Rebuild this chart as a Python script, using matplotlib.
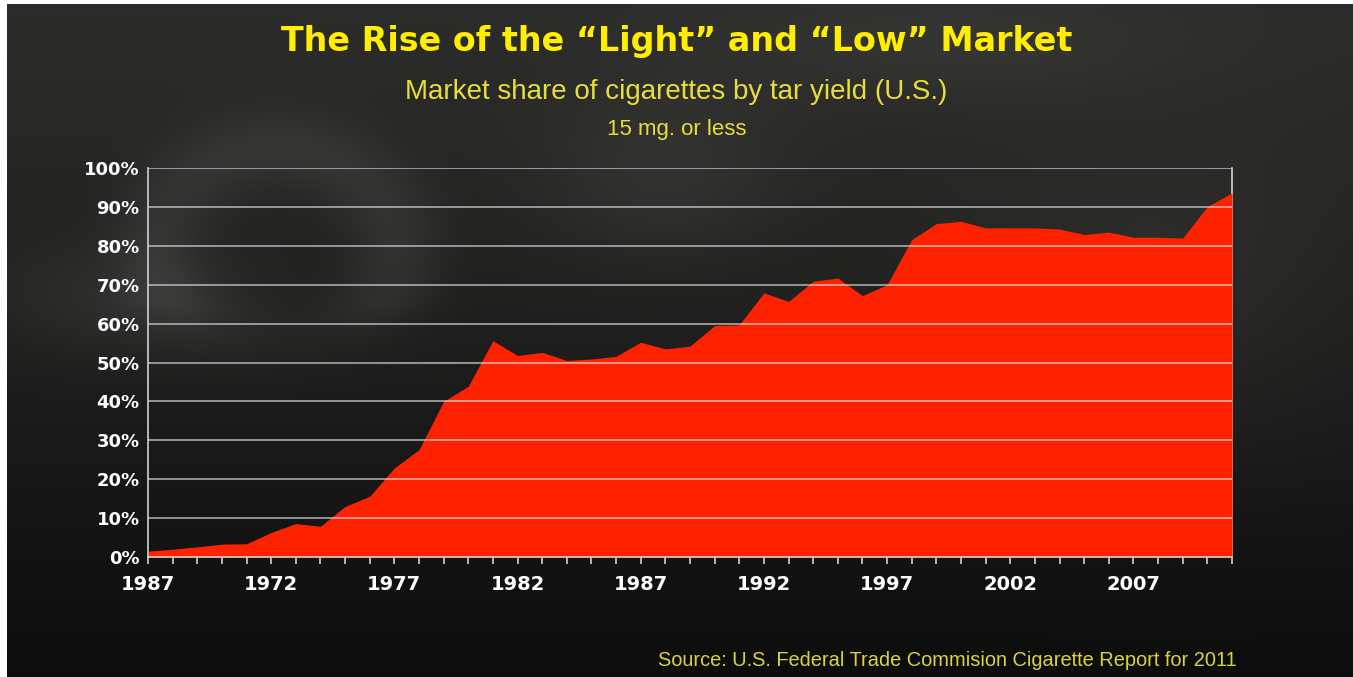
import numpy as np
import matplotlib
matplotlib.use("Agg")
import matplotlib.pyplot as plt
from matplotlib.ticker import MultipleLocator, FixedLocator, FixedFormatter

# Market share of cigarettes with 15 mg. tar or less (U.S.), one value per year
years = list(range(1967, 2012))
share = [1.5, 2.0, 2.6, 3.3, 3.4, 6.3, 8.6, 7.9, 13.0, 15.6,
         22.9, 27.6, 40.0, 43.9, 55.6, 51.8, 52.6, 50.5, 50.9, 51.6,
         55.2, 53.5, 54.2, 59.5, 59.7, 67.9, 65.7, 70.9, 71.7, 67.2,
         70.0, 81.6, 85.7, 86.3, 84.6, 84.6, 84.6, 84.3, 82.9, 83.5,
         82.2, 82.2, 82.0, 90.1, 93.6]

# x labels as printed on the original (first one reads "1987")
xtick_years = [1967, 1972, 1977, 1982, 1987, 1992, 1997, 2002, 2007]
xtick_labels = ["1987", "1972", "1977", "1982", "1987", "1992", "1997", "2002", "2007"]
yticks = list(range(0, 101, 10))

title = "The Rise of the \u201cLight\u201d and \u201cLow\u201d Market"
subtitle = "Market share of cigarettes by tar yield (U.S.)"
subsubtitle = "15 mg. or less"
source = "Source: U.S. Federal Trade Commision Cigarette Report for 2011"

W, H = 1353, 677
fig = plt.figure(figsize=(W / 100, H / 100), dpi=100, facecolor="white")

# smoky dark background
bg = fig.add_axes([7 / W, 0, 1 - 7 / W, 1 - 4 / H])
bg.set_axis_off()
yy, xx = np.mgrid[0:H:2, 0:W:2].astype(float)
img = 0.17 - 0.12 * (yy / H) ** 1.2
r = np.hypot(xx - 270, (yy - 250) * 1.15)
img += 0.06 * np.exp(-((r - 120) / 45) ** 2) * np.exp(-np.clip(yy - 300, 0, None) / 40)
img += 0.05 * np.exp(-((xx - 120) / 140) ** 2 - ((yy - 300) / 60) ** 2)
img += 0.05 * np.exp(-((xx - 660) / 120) ** 2 - ((yy - 170) / 90) ** 2)
img += 0.04 * np.exp(-((xx - 1150) / 200) ** 2 - ((yy - 300) / 150) ** 2)
img += 0.04 * np.exp(-((xx - 950) / 250) ** 2 - ((yy - 40) / 60) ** 2)
img = np.clip(img, 0, 1)
rgb = np.dstack([img, img, img * 0.97])
bg.imshow(rgb, aspect="auto", extent=[0, 1, 0, 1], interpolation="bilinear")

ax = fig.add_axes([148 / W, 1 - 557 / H, (1232 - 148) / W, (557 - 168) / H])
ax.patch.set_alpha(0)

ax.fill_between(years, share, 0, color="#ff2200", lw=0, zorder=2)

ax.set_xlim(1967, 2011)
ax.set_ylim(0, 100)

for y in yticks[1:]:
    ax.axhline(y, color="#d8d8d8", lw=1.2, alpha=0.75, zorder=3)

ax.spines["top"].set_visible(False)
for side in ["left", "bottom", "right"]:
    ax.spines[side].set_color("#d0d0d0")
    ax.spines[side].set_linewidth(1.2)
ax.spines["right"].set_zorder(1)

ax.xaxis.set_major_locator(FixedLocator(xtick_years))
ax.xaxis.set_major_formatter(FixedFormatter(xtick_labels))
ax.xaxis.set_minor_locator(MultipleLocator(1))
ax.tick_params(axis="x", which="both", direction="out", length=5, width=1.2,
               color="#d0d0d0", pad=8)
ax.tick_params(axis="x", which="major", labelsize=14, labelcolor="white")
ax.set_yticks(yticks)
ax.set_yticklabels([f"{v}%" for v in yticks])
ax.tick_params(axis="y", length=0, pad=6, labelsize=13, labelcolor="white")
for lbl in ax.get_xticklabels() + ax.get_yticklabels():
    lbl.set_fontweight("bold")
    lbl.set_family("DejaVu Sans")

narrow = ["Liberation Sans Narrow", "Liberation Sans", "DejaVu Sans"]
fig.text(0.5, 1 - 42 / H, title, ha="center", va="center", color="#ffee00",
         fontsize=24, fontweight="heavy", family="DejaVu Sans")
fig.text(0.5, 1 - 92 / H, subtitle, ha="center", va="center", color="#e6de3c",
         fontsize=20, family=narrow)
fig.text(0.5, 1 - 130 / H, subsubtitle, ha="center", va="center", color="#e6de3c",
         fontsize=16, family=narrow)
fig.text(1237 / W, 1 - 661 / H, source, ha="right", va="center", color="#d8d440",
         fontsize=14.4, family=narrow)

fig.savefig("out.png", dpi=100, facecolor=fig.get_facecolor())
